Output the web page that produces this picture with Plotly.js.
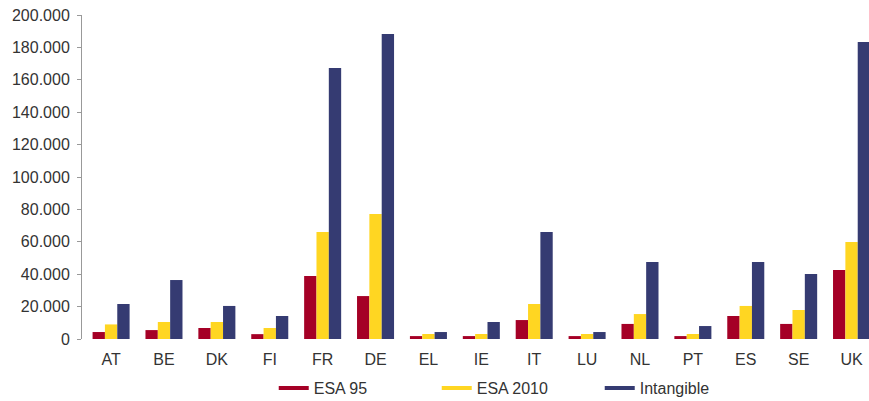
<!DOCTYPE html>
<html>
<head>
<meta charset="utf-8">
<script src="https://cdn.plot.ly/plotly-3.0.1.min.js"></script>
<style>html,body{margin:0;padding:0;background:#fff;}#chart{width:869px;height:401px;}</style>
</head>
<body>
<div id="chart"></div>
<script>
const countries = ["AT","BE","DK","FI","FR","DE","EL","IE","IT","LU","NL","PT","ES","SE","UK"];
const esa95 = [4300, 5500, 6800, 3000, 38900, 26500, 1800, 1800, 11700, 1800, 9300, 1800, 14200, 9300, 42600];
const esa2010 = [9000, 10500, 10500, 6800, 66000, 77200, 3100, 3100, 21600, 3100, 15400, 3100, 20400, 17900, 59900];
const intangible = [21600, 36400, 20400, 14200, 167300, 188300, 4300, 10500, 66000, 4300, 47500, 8000, 47500, 40100, 183300];
const seriesNames = ["ESA 95", "ESA 2010", "Intangible"];
const seriesColors = ["#A50026", "#FFD622", "#353B72"];
const seriesData = [esa95, esa2010, intangible];

const traces = [];
seriesData.forEach((vals, i) => {
  traces.push({type: "bar", x: countries, y: vals, name: seriesNames[i],
    marker: {color: seriesColors[i], line: {width: 0}}, showlegend: false, hoverinfo: "x+y"});
});
seriesData.forEach((vals, i) => {
  traces.push({type: "scatter", mode: "lines", x: [null], y: [null], name: seriesNames[i],
    line: {color: seriesColors[i], width: 4}, showlegend: true});
});

const layout = {
  width: 869, height: 401,
  margin: {l: 82, r: 0, t: 15, b: 62},
  paper_bgcolor: "#fff", plot_bgcolor: "#fff",
  separators: ",.",
  font: {family: "Liberation Sans, Arial, sans-serif", size: 16, color: "#333"},
  barmode: "group", bargap: 0.30, bargroupgap: 0,
  showlegend: true,
  legend: {orientation: "h", xref: "container", yref: "container", x: 0.315, xanchor: "left",
    y: 0.032, yanchor: "middle", entrywidth: 118, entrywidthmode: "pixels",
    font: {size: 16, color: "#333"}, traceorder: "normal"},
  xaxis: {type: "category", range: [-0.55, 14.33], showline: false, showgrid: false, zeroline: false,
    ticks: "outside", ticklen: 6, tickcolor: "rgba(0,0,0,0)", tickfont: {size: 16, color: "#333"}, fixedrange: true},
  yaxis: {range: [0, 200000], dtick: 20000, tickformat: ",d", showline: true, linecolor: "#999", linewidth: 1,
    showgrid: false, zeroline: false, ticks: "outside", ticklen: 4, tickcolor: "#999", ticklabelstandoff: 4,
    tickfont: {size: 16, color: "#333"}, fixedrange: true}
};
Plotly.newPlot("chart", traces, layout, {displayModeBar: false, staticPlot: true});
</script>
</body>
</html>
